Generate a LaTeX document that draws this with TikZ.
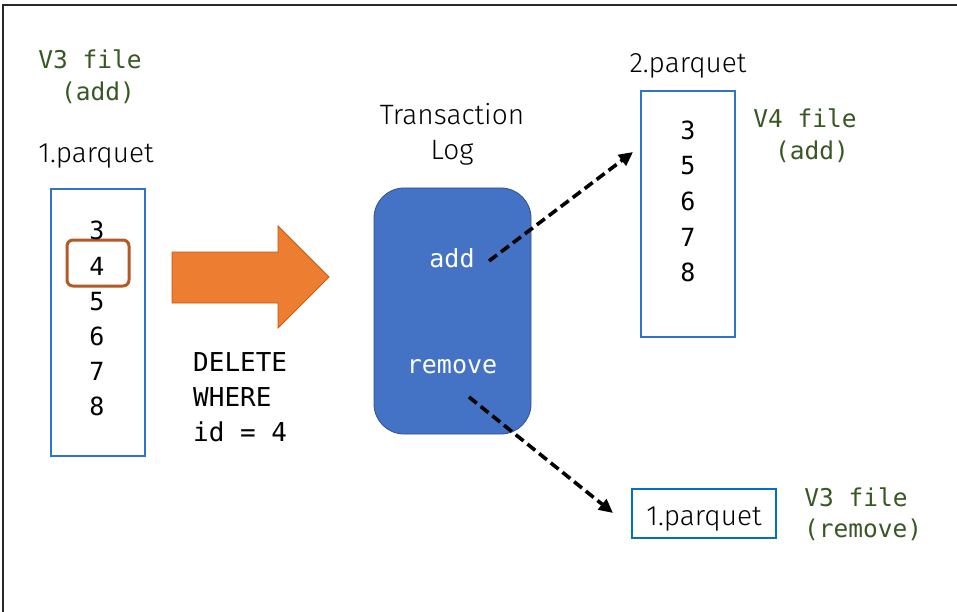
\documentclass[tikz,border=0pt]{standalone}
\usepackage{fontspec}
\setmonofont{DejaVu Sans Mono}
\newfontfamily\lightsans{Fira Sans Light}
\usetikzlibrary{arrows.meta}
\definecolor{labelgreen}{RGB}{56,87,35}
\definecolor{fileblue}{RGB}{46,117,200}
\definecolor{strongblue}{RGB}{0,112,192}
\definecolor{logfill}{RGB}{68,114,196}
\definecolor{logedge}{RGB}{47,82,143}
\definecolor{arrowfill}{RGB}{237,125,49}
\definecolor{arrowedge}{RGB}{197,90,17}
\definecolor{rowmark}{RGB}{178,89,36}
\definecolor{framegray}{RGB}{40,40,40}

\begin{document}
\begin{tikzpicture}[x=1pt,y=-1pt,
  greenlbl/.style={anchor=base, inner sep=0, text=labelgreen, font=\fontsize{24.5}{29}\selectfont\ttfamily},
  thinlbl/.style={anchor=base, inner sep=0, font=\fontsize{28}{34}\lightsans},
  digit/.style={anchor=base, inner sep=0, font=\fontsize{25}{30}\selectfont\ttfamily},
  sqltext/.style={anchor=base west, inner sep=0, font=\fontsize{26}{31}\selectfont\ttfamily},
  logtext/.style={anchor=base, inner sep=0, text=white, font=\fontsize{25}{30}\selectfont\ttfamily},
  filebox/.style={draw=fileblue, line width=1.3pt, minimum width=94pt, inner sep=0},
  flow/.style={line width=3.6pt, dash pattern=on 10pt off 5pt, -{Triangle[length=14pt,width=13pt]}}
]
\useasboundingbox (0,0) rectangle (957,612);

% outer frame (top and left edges only)
\draw[line width=2pt, framegray] (3,612) -- (3,5) -- (957,5);

% source file 1.parquet
\node[greenlbl] (v3addA) at (90,69) {V3 file};
\node[greenlbl] (v3addB) at (98,101) {(add)};
\node[thinlbl] (f1name) at (96,163) {1.parquet};
\node[filebox, minimum height=267pt] (f1) at (98,322.5) {};
\node[draw=rowmark, line width=3pt, rounded corners=6pt, minimum width=62pt, minimum height=46pt, inner sep=0] (hl) at (98,263) {};
\node[digit] (r3) at (97,240) {3};
\node[digit] (r4) at (97,275) {4};
\node[digit] (r5) at (97,310) {5};
\node[digit] (r6) at (97,345) {6};
\node[digit] (r7) at (97,380) {7};
\node[digit] (r8) at (97,415) {8};

% block arrow for the delete operation
\draw[fill=arrowfill, draw=arrowedge, line width=0.8pt]
  (172,252) -- (278,252) -- (278,226) -- (329,277) -- (278,328) -- (278,303) -- (172,303) -- cycle;
\node[sqltext] (sqlA) at (193,371) {DELETE};
\node[sqltext] (sqlB) at (193,406) {WHERE};
\node[sqltext] (sqlC) at (193,441) {id = 4};

% transaction log
\node[thinlbl] (tlA) at (452,125) {Transaction};
\node[thinlbl] (tlB) at (452,160) {Log};
\node[draw=logedge, fill=logfill, line width=0.8pt, rounded corners=30pt, minimum width=157pt, minimum height=246pt, inner sep=0] (log) at (452.5,311) {};
\node[logtext] (addop) at (452,267) {add};
\node[logtext] (remop) at (452,373) {remove};

% new file 2.parquet
\node[thinlbl] (f2name) at (688,73) {2.parquet};
\node[filebox, minimum height=246pt] (f2) at (688,214) {};
\node[digit] (s3) at (688,140) {3};
\node[digit] (s5) at (688,175) {5};
\node[digit] (s6) at (688,211) {6};
\node[digit] (s7) at (688,246) {7};
\node[digit] (s8) at (688,281) {8};
\node[greenlbl] (v4A) at (805,128) {V4 file};
\node[greenlbl] (v4B) at (812,160) {(add)};

% removed file reference
\node[draw=strongblue, line width=2.5pt, minimum width=144pt, minimum height=49pt, inner sep=0] (f1old) at (704,513.5) {};
\node[thinlbl] (f1oldname) at (704,525) {1.parquet};
\node[greenlbl] (v3remA) at (856,506) {V3 file};
\node[greenlbl] (v3remB) at (863,537) {(remove)};

% log entries pointing at files
\coordinate (addtail) at (489,261);
\coordinate (addhead) at (633,152);
\coordinate (remtail) at (469,397);
\coordinate (remhead) at (613,513);
\draw[flow] (addtail) -- (addhead);
\draw[flow] (remtail) -- (remhead);
\end{tikzpicture}
\end{document}
